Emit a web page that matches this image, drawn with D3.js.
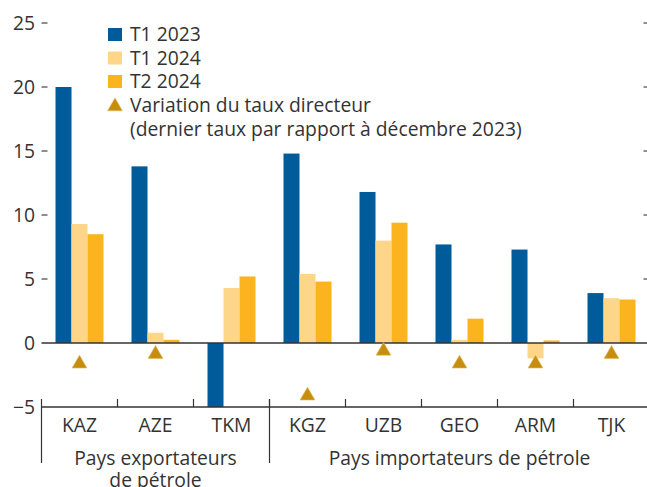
<!DOCTYPE html>
<html>
<head>
<meta charset="utf-8">
<script src="https://cdn.jsdelivr.net/npm/d3@7"></script>
<style>
  body { margin: 0; background: #fff; }
  svg text { font-family: "Open Sans", sans-serif; fill: #333; }
</style>
</head>
<body>
<svg id="chart" width="647" height="487"></svg>
<script>
// data
const countries = ["KAZ", "AZE", "TKM", "KGZ", "UZB", "GEO", "ARM", "TJK"];
const series = ["T1 2023", "T1 2024", "T2 2024"];
const t1_2023 = [20.0, 13.8, -5.0, 14.8, 11.8, 7.7, 7.3, 3.9];
const t1_2024 = [9.3, 0.8, 4.3, 5.4, 8.0, 0.25, -1.2, 3.5];
const t2_2024 = [8.5, 0.25, 5.2, 4.8, 9.4, 1.9, 0.2, 3.4];
const policyChange = [-1.5, -0.75, null, -4.0, -0.5, -1.5, -1.5, -0.75];
const yTicks = [-5, 0, 5, 10, 15, 20, 25];
const groups = [
  { label: ["Pays exportateurs", "de pétrole"], from: "KAZ", to: "TKM" },
  { label: ["Pays importateurs de pétrole"], from: "KGZ", to: "TJK" }
];
const colors = ["#005b9b", "#fdd68a", "#fbb41e"];
const triColor = "#c68e0c";
const fs = 19.3;

const svg = d3.select("#chart");
const mLeft = 41.5, mRight = 649.5, mTop = 23, mBottom = 407;

const x = d3.scaleBand().domain(countries).range([mLeft, mRight]);
const x1 = d3.scaleBand().domain(series).range([-24, 24]);
const y = d3.scaleLinear().domain([-5, 25]).range([mBottom, mTop]);

const values = [t1_2023, t1_2024, t2_2024];

// y tick labels and inward ticks on both sides
const yAxis = svg.append("g");
yAxis.selectAll("text").data(yTicks).enter().append("text")
  .attr("x", 35).attr("y", d => y(d)).attr("dy", "0.35em")
  .attr("text-anchor", "end").attr("font-size", fs)
  .text(d => d < 0 ? "\u2212" + Math.abs(d) : d);
yAxis.selectAll("line.l").data(yTicks.filter(d => d !== -5 && d !== 0)).enter().append("line")
  .attr("x1", mLeft).attr("x2", mLeft + 6).attr("y1", d => y(d)).attr("y2", d => y(d))
  .attr("stroke", "#444").attr("stroke-width", 1.2);
yAxis.selectAll("line.r").data(yTicks.filter(d => d !== -5 && d !== 0)).enter().append("line")
  .attr("x1", mRight - 6).attr("x2", mRight).attr("y1", d => y(d)).attr("y2", d => y(d))
  .attr("stroke", "#444").attr("stroke-width", 1.2);

// bars, clipped to plot
svg.append("clipPath").attr("id", "plot").append("rect")
  .attr("x", mLeft).attr("y", mTop - 5).attr("width", mRight - mLeft).attr("height", mBottom - mTop + 5);
const bars = svg.append("g").attr("clip-path", "url(#plot)");
series.forEach((s, i) => {
  bars.selectAll(null).data(countries).enter().append("rect")
    .attr("x", c => x(c) + x.bandwidth() / 2 + x1(s))
    .attr("width", x1.bandwidth())
    .attr("y", (c, j) => y(Math.max(0, values[i][j])))
    .attr("height", (c, j) => Math.abs(y(values[i][j]) - y(0)))
    .attr("fill", colors[i]);
});

// zero line
svg.append("line").attr("x1", mLeft).attr("x2", mRight).attr("y1", y(0)).attr("y2", y(0))
  .attr("stroke", "#333").attr("stroke-width", 1.5);

// policy rate triangles
const tri = d3.symbol().type(d3.symbolTriangle).size(95);
svg.append("g").selectAll("path")
  .data(countries.map((c, j) => ({ c, v: policyChange[j] })).filter(d => d.v !== null))
  .enter().append("path")
  .attr("d", tri)
  .attr("transform", d => `translate(${x(d.c) + x.bandwidth() / 2},${y(d.v) + 1.5})`)
  .attr("fill", triColor).attr("stroke", "#e0b860").attr("stroke-width", 0.6);

// bottom axis
const xAxis = svg.append("g");
xAxis.append("line").attr("x1", mLeft).attr("x2", mRight).attr("y1", mBottom).attr("y2", mBottom)
  .attr("stroke", "#333").attr("stroke-width", 1.5);
xAxis.selectAll("line.t").data(countries.slice(1)).enter().append("line")
  .attr("x1", c => x(c)).attr("x2", c => x(c)).attr("y1", mBottom - 8).attr("y2", mBottom)
  .attr("stroke", "#333").attr("stroke-width", 1.2);
xAxis.selectAll("text").data(countries).enter().append("text")
  .attr("x", c => x(c) + x.bandwidth() / 2).attr("y", 432)
  .attr("text-anchor", "middle").attr("font-size", fs).text(c => c);

// group separators and labels
groups.forEach(g => {
  xAxis.append("line").attr("x1", x(g.from)).attr("x2", x(g.from))
    .attr("y1", mBottom - 8).attr("y2", 463).attr("stroke", "#333").attr("stroke-width", 1.2);
  const cx = (x(g.from) + x(g.to) + x.bandwidth()) / 2;
  g.label.forEach((t, k) => {
    xAxis.append("text").attr("x", cx).attr("y", 465 + k * 22)
      .attr("text-anchor", "middle").attr("font-size", fs).text(t);
  });
});

// legend
const legend = svg.append("g").attr("transform", "translate(108,0)");
series.forEach((s, i) => {
  legend.append("rect").attr("x", 0).attr("y", 28 + i * 23.5).attr("width", 14).attr("height", 13)
    .attr("fill", colors[i]);
  legend.append("text").attr("x", 22).attr("y", 34.5 + i * 23.5).attr("dy", "0.35em")
    .attr("font-size", fs).text(s);
});
legend.append("path").attr("d", tri)
  .attr("transform", `translate(7,${106.5})`)
  .attr("fill", triColor).attr("stroke", "#e0b860").attr("stroke-width", 0.6);
legend.append("text").attr("x", 22).attr("y", 105).attr("dy", "0.35em").attr("font-size", fs)
  .text("Variation du taux directeur");
legend.append("text").attr("x", 22).attr("y", 129).attr("dy", "0.35em").attr("font-size", fs)
  .text("(dernier taux par rapport à décembre 2023)");
</script>
</body>
</html>
